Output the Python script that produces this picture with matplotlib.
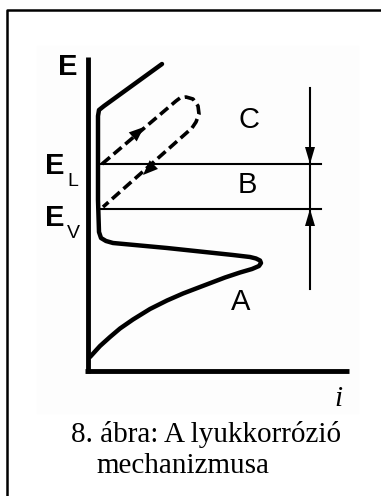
import matplotlib.pyplot as plt
import numpy as np
from matplotlib.patches import Rectangle, Polygon

# polarisation curve of a passive metal (pixel coordinates, y grows downwards)
curve_x = [162, 104, 99, 98, 98, 99, 101, 106, 113, 167, 233, 250, 256, 260, 261,
           259, 252, 240, 225, 200, 183, 167, 150, 133, 120, 110, 100, 90]
curve_y = [64, 106, 110, 116, 200, 232, 238, 241, 243, 248, 255, 257, 258.5, 260.5, 263,
           266, 269, 272.5, 277.5, 287, 293.5, 300.5, 309, 319.5, 328.5, 337, 346, 357]

# hysteresis loop (dashed): forward scan up, reverse scan down
loop_x = [102, 176, 180, 186, 193, 198, 199, 196, 192, 103]
loop_y = [164, 101, 98, 97, 99, 106, 114, 122, 128, 207]

# potential levels
E_L = 164
E_V = 209
level_x = (100, 321)

# region labels
regions = ["C", "B", "A"]
region_x = [239, 238, 231]
region_y = [128, 193, 310]

caption = ["8. ábra: A lyukkorrózió", "mechanizmusa"]

plt.rcParams["lines.scale_dashes"] = False
fig = plt.figure(figsize=(3.81, 4.96), dpi=100)
ax = fig.add_axes([0, 0, 1, 1])
ax.set_xlim(0, 381)
ax.set_ylim(496, 0)
ax.axis("off")

# page frame and figure background
ax.plot([7, 7, 381], [496, 10, 10], color="black", lw=1.8, solid_capstyle="butt")
ax.add_patch(Rectangle((37, 46), 321, 367, color="#fdfdfd", zorder=0))

# E and i axes
ax.plot([87.5, 87.5], [57, 373], color="black", lw=3.5, solid_capstyle="butt")
ax.plot([85, 349], [371, 371], color="black", lw=3.5, solid_capstyle="butt")

ax.plot(curve_x, curve_y, color="black", lw=3.2, solid_joinstyle="round",
        solid_capstyle="round")
ax.plot(loop_x, loop_y, color="black", lw=2.6, linestyle=(0, (7.5, 3.5)),
        dash_capstyle="butt")


def head(tip, tail, length=12, half=5):
    tip = np.array(tip, float)
    d = tip - np.array(tail, float)
    d /= np.hypot(*d)
    n = np.array([-d[1], d[0]])
    base = tip - d * length
    ax.add_patch(Polygon([tip, base + n * half, base - n * half],
                         color="black", lw=0))


# direction markers on the loop
head((144, 127), (102, 164), length=15, half=6)
head((143, 175), (192, 128), length=15, half=6)

for y in (E_L, E_V):
    ax.plot(level_x, [y, y], color="black", lw=1.5)

# breakdown / repassivation potential arrows
ax.plot([310, 310], [88, 289], color="black", lw=1.5)
head((310, E_L), (310, 88), length=17, half=5)
head((310, E_V), (310, 289), length=17, half=5)

sans = dict(family="Liberation Sans", fontweight="bold", color="black")
ax.text(58, 75, "E", fontsize=21, **sans)
ax.text(45, 174, "E", fontsize=21, **sans)
ax.text(67, 186, "L", fontsize=14, family="Liberation Sans", color="black")
ax.text(45, 226, "E", fontsize=21, **sans)
ax.text(67, 238, "V", fontsize=14, family="Liberation Sans", color="black")
for lab, x, y in zip(regions, region_x, region_y):
    ax.text(x, y, lab, fontsize=21, family="Liberation Sans", color="black")

ax.text(334, 406, "i", fontsize=21, family="Liberation Serif", style="italic",
        color="black")
ax.text(71, 442, caption[0], fontsize=21, family="Liberation Serif", color="black")
ax.text(96, 473, caption[1], fontsize=21, family="Liberation Serif", color="black")

fig.savefig("out.png", dpi=100)
